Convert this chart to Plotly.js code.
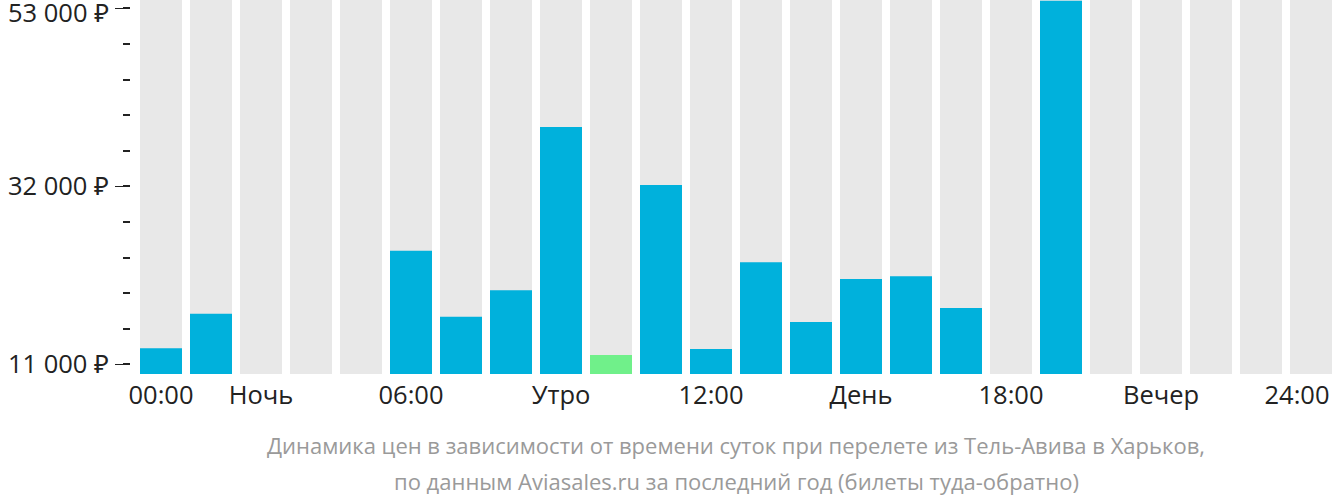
<!DOCTYPE html>
<html>
<head>
<meta charset="utf-8">
<script src="https://cdn.plot.ly/plotly-3.0.1.min.js"></script>
<style>html,body{margin:0;padding:0;background:#fff;overflow:hidden}#chart{width:1332px;height:502px}</style>
</head>
<body>
<div id="chart"></div>
<script>
// Hours of the day (bar slots)
var hours = [0,1,2,3,4,5,6,7,8,9,10,11,12,13,14,15,16,17,18,19,20,21,22,23];
// Prices in rubles (null = no data)
var prices = [12900, 16950, null, null, null, 24400, 16600, 19750, 39000, 12100, 32150, 12800,
              23050, 16000, 21050, 21400, 17650, null, 53900, null, null, null, null, null];
// Background column height (full chart height)
var backgroundLevel = [54000,54000,54000,54000,54000,54000,54000,54000,54000,54000,54000,54000,
                       54000,54000,54000,54000,54000,54000,54000,54000,54000,54000,54000,54000];
// X tick labels and where they sit
var xTickLabels = ["00:00","Ночь","06:00","Утро","12:00","День","18:00","Вечер","24:00"];
var xTickPos = [0, 2, 5, 8, 11, 14, 17, 20, 22.72];
// Y tick values and labels
var yTickVals = [11000, 32000, 53000];
var yTickLabels = ["11 000 ₽", "32 000 ₽", "53 000 ₽"];
var caption = ["Динамика цен в зависимости от времени суток при перелете из Тель-Авива в Харьков,",
               "по данным Aviasales.ru за последний год (билеты туда-обратно)"];

var minPrice = Math.min.apply(null, prices.filter(function(v){return v !== null;}));
var colors = prices.map(function(v){ return v === minPrice ? '#70f08a' : '#00b1dc'; });

var traces = [
  {type:'bar', x:hours, y:backgroundLevel, marker:{color:'#e8e8e8'}, hoverinfo:'skip', showlegend:false},
  {type:'bar', x:hours, y:prices, marker:{color:colors}, showlegend:false}
];

// the top tick label sits at the very edge, so it is drawn as an annotation nudged down
var axisTickText = yTickLabels.slice(0, yTickLabels.length - 1).concat([""]);

var font = "'Open Sans', 'Noto Sans', sans-serif";
var layout = {
  width:1332, height:502,
  margin:{l:131, r:0, t:0, b:128, pad:0},
  paper_bgcolor:'#fff', plot_bgcolor:'#fff',
  barmode:'overlay', bargap:0.16,
  font:{family:font, color:'#222'},
  xaxis:{range:[-0.6, 23.42], tickmode:'array', tickvals:xTickPos, ticktext:xTickLabels,
         showgrid:false, zeroline:false, showline:false, ticks:'',
         tickfont:{size:25.5, color:'#222', family:font}, ticklabelstandoff:3, fixedrange:true},
  yaxis:{range:[9850, 54000], tickmode:'array', tickvals:yTickVals, ticktext:axisTickText,
         showgrid:false, zeroline:false, showline:false,
         ticks:'outside', ticklen:15, tickwidth:1.5, tickcolor:'#222',
         minor:{tickmode:'linear', tick0:11000, dtick:4200, ticks:'outside', ticklen:7, tickwidth:2, tickcolor:'#222', showgrid:false},
         tickfont:{size:25.5, color:'#222', family:font}, ticklabelstandoff:1,
         ticklabeloverflow:'allow', fixedrange:true},
  annotations:[
    {xref:'paper', yref:'y', x:0, y:yTickVals[2], text:yTickLabels[2], showarrow:false,
     xanchor:'right', yanchor:'middle', xshift:-21, yshift:-4, borderpad:0,
     font:{size:25.5, color:'#222', family:font}},
    {xref:'paper', yref:'paper', x:(736-131)/1201, y:-(445-374)/374, text:caption[0], showarrow:false,
     xanchor:'center', yanchor:'middle', font:{size:22, color:'#9a9a9a', family:font}},
    {xref:'paper', yref:'paper', x:(736-131)/1201, y:-(481-374)/374, text:caption[1], showarrow:false,
     xanchor:'center', yanchor:'middle', font:{size:22, color:'#9a9a9a', family:font}}
  ]
};
Plotly.newPlot('chart', traces, layout, {displayModeBar:false, staticPlot:true});
</script>
</body>
</html>
